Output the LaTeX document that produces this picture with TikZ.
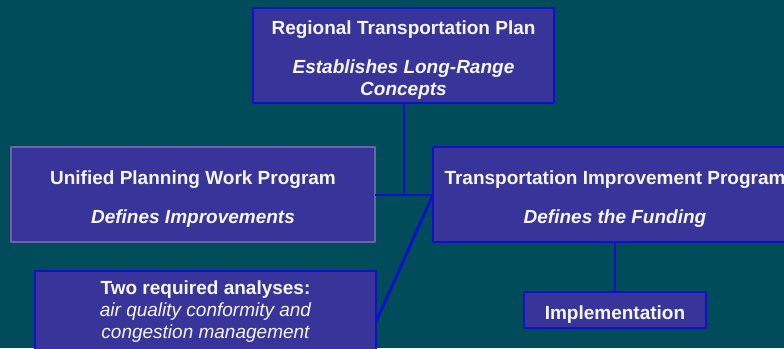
\documentclass[tikz,border=0pt]{standalone}
\usepackage{fontspec}
\setmainfont{Liberation Sans}
\definecolor{bgteal}{RGB}{0,76,90}
\definecolor{boxfill}{RGB}{56,52,154}
\definecolor{boxline}{RGB}{16,16,200}
\definecolor{greyline}{RGB}{104,104,160}
\definecolor{txtwhite}{RGB}{245,245,250}
\newcommand{\padtop}{\rule{0pt}{22pt}}
\tikzset{
	plan/.style={draw=boxline, line width=1.2pt, fill=boxfill, text=txtwhite, align=center, inner sep=0pt, outer sep=0pt, font=\bfseries\fontsize{19}{22}\selectfont},
	link/.style={draw=boxline, line width=2pt},
}
\begin{document}
\begin{tikzpicture}[x=1pt, y=-1pt, line join=round]
	%%Nền và khung
	\useasboundingbox[fill=bgteal] (0,0) rectangle (784,348);
	\clip (0,0) rectangle (784,348);
	%%Các khối
	\node[plan, minimum width=301pt, minimum height=95pt] (rtp) at (403.5,55.5)
	{\padtop Regional Transportation Plan\\[17pt] {\itshape Establishes Long-Range}\\ {\itshape Concepts}};
	\node[plan, draw=greyline, minimum width=364pt, minimum height=95pt] (upwp) at (193,194.5)
	{\padtop Unified Planning Work Program\\[17pt] {\itshape Defines Improvements}};
	\node[plan, minimum width=364pt, minimum height=95pt] (tip) at (615,194.5)
	{\padtop Transportation Improvement Program\\[17pt] {\itshape Defines the Funding}};
	\node[plan, minimum width=341pt, minimum height=82pt] (analyses) at (205.5,312)
	{Two required analyses:\\ {\mdseries\itshape air quality conformity and}\\ {\mdseries\itshape congestion management}};
	\node[plan, minimum width=182pt, minimum height=36pt] (impl) at (615,310) {\padtop Implementation};
	%%Các đường nối
	\draw[link] (rtp.south) -- (rtp.south |- upwp.east);
	\draw[link] (upwp.east) -- (tip.west);
	\draw[link, line width=3pt] (tip.west) -- ([yshift=-51pt]analyses.north east);
	\draw[link] (tip.south) -- (impl.north);
\end{tikzpicture}
\end{document}
